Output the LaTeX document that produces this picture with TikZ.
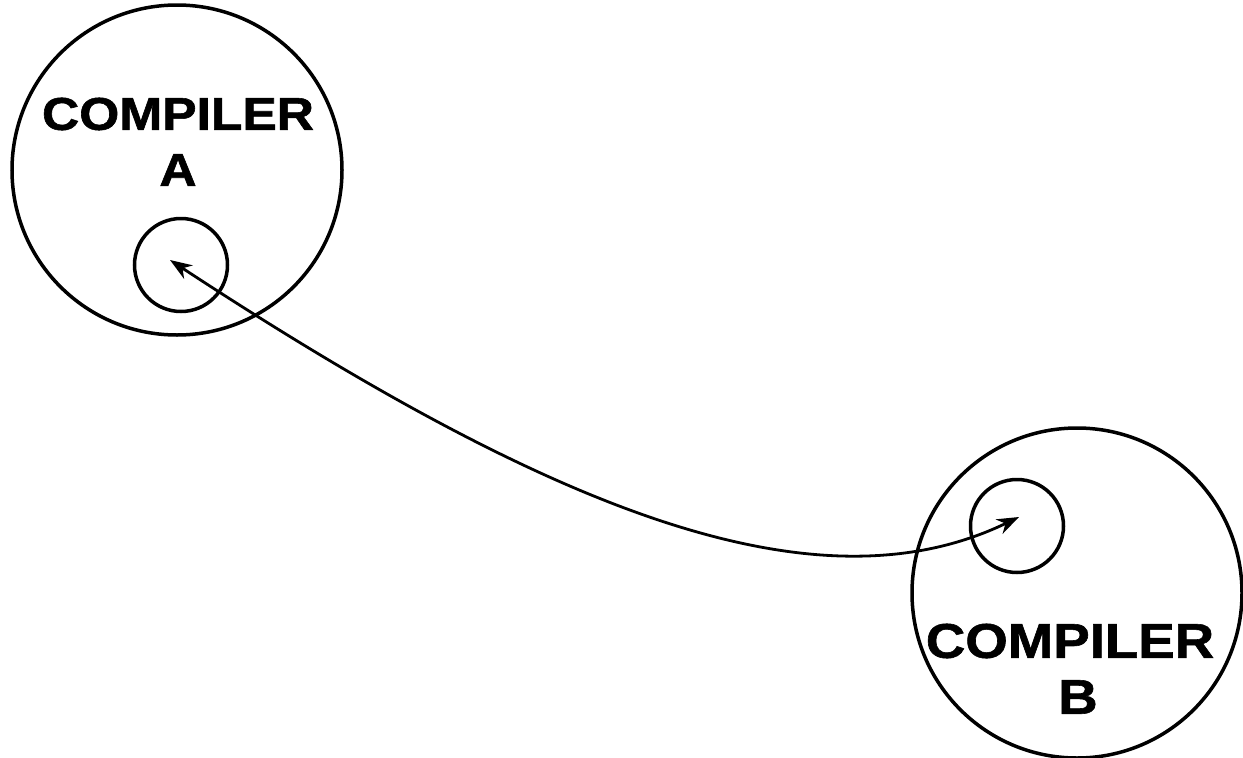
\documentclass[tikz,border=0pt]{standalone}
\usepackage{fontspec}
\setmainfont{Liberation Sans}
\newfontfamily\heavyfont{Liberation Sans Bold}[FakeBold=1.2]
\usetikzlibrary{arrows.meta}
\begin{document}
\begin{tikzpicture}[x=1pt,y=-1pt,
  bigcirc/.style={circle,draw,line width=3.5pt,minimum size=330pt,inner sep=0pt},
  smallcirc/.style={circle,draw,line width=3.5pt,minimum size=93pt,inner sep=0pt},
  lbl/.style={font=\fontsize{46}{50}\heavyfont,inner sep=0pt,xscale=1.12},
  conn/.style={line width=2.8pt,{Stealth[length=22pt,width=16pt,inset=7pt]}-{Stealth[length=22pt,width=16pt,inset=7pt]}}]
\fill[white] (0,0) rectangle (1243,758);
\useasboundingbox (0,0) rectangle (1243,758);
\node[bigcirc] (bigA) at (177,170) {};
\node[smallcirc] (smallA) at (181,265) {};
\node[bigcirc] (bigB) at (1077,593) {};
\node[smallcirc] (smallB) at (1017,526) {};
\node[lbl] (ta1) at (178,114) {COMPILER};
\node[lbl] (ta2) at (178,170) {A};
\node[lbl,scale=1.06] (tb1) at (1070,641) {COMPILER};
\node[lbl,scale=1.06] (tb2) at (1078,697) {B};
\coordinate (tipA) at (170,260);
\coordinate (tipB) at (1019,517);
\draw[conn] (tipA) .. controls (548,508) and (814,616) .. (tipB);
\end{tikzpicture}
\end{document}
